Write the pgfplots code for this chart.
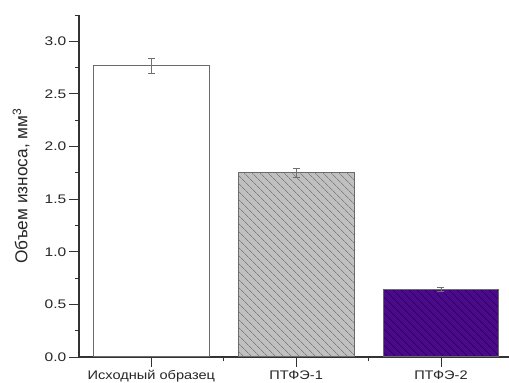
\documentclass[border=0pt]{standalone}
\usepackage{fontspec}
\setmainfont{Liberation Sans}
\usepackage{pgfplots}
\pgfplotsset{compat=1.18}
\usetikzlibrary{patterns.meta}
\definecolor{edgegray}{HTML}{6A6A6A}
\definecolor{barsilver}{HTML}{C0C0C0}
\definecolor{hatchgray}{HTML}{808080}
\definecolor{indigo}{HTML}{4B0A8C}
\definecolor{hatchindigo}{HTML}{2A0055}
\definecolor{errgray}{HTML}{707070}
\begin{document}
\begin{tikzpicture}
\begin{axis}[
  scale only axis,
  width=430bp, height=342bp,
  xmin=-0.5, xmax=2.47,
  ymin=0, ymax=3.25,
  axis x line=bottom, axis y line=left,
  axis line style={-, line width=1.1bp, draw=black!80},
  xtick={0,1,2},
  xticklabels={Исходный образец, ПТФЭ-1, ПТФЭ-2},
  minor xtick={0.5,1.5},
  ytick={0,0.5,1,1.5,2,2.5,3},
  minor ytick={0.25,0.75,1.25,1.75,2.25,2.75,3.25},
  tick align=outside,
  major tick length=10bp, minor tick length=4bp,
  tick style={line width=0.9bp, draw=black!80},
  /pgf/number format/assume math mode=true,
  yticklabel style={/pgf/number format/fixed, /pgf/number format/precision=1, /pgf/number format/fixed zerofill, font=\fontsize{12.5}{14}\selectfont, text=black!85, xscale=1.25, inner sep=2bp},
  xticklabel style={font=\fontsize{12.5}{14}\selectfont, text=black!85, xscale=1.17},
  ylabel={Объем износа, мм$^{\mathrm{3}}$},
  ylabel style={font=\fontsize{17.3}{19}\selectfont, text=black!85},
  ylabel shift=9bp,
  clip=false,
]
\addplot[ybar, bar width=0.8, bar shift=0pt, draw=edgegray, line width=1bp, fill=white,
  error bars/.cd, y dir=both, y explicit,
  error bar style={errgray, line width=0.7bp},
  error mark options={rotate=90, mark size=3.5bp, errgray, line width=0.7bp}]
  coordinates {(0,2.77) +- (0,0.07)};
\addplot[ybar, bar width=0.8, bar shift=0pt, draw=edgegray, line width=1bp, fill=barsilver,
  postaction={pattern={Lines[angle=-45, distance=6bp, line width=0.7bp]}, pattern color=hatchgray},
  error bars/.cd, y dir=both, y explicit,
  error bar style={errgray, line width=0.7bp},
  error mark options={rotate=90, mark size=3.5bp, errgray, line width=0.7bp}]
  coordinates {(1,1.75) +- (0,0.045)};
\addplot[ybar, bar width=0.8, bar shift=0pt, draw=edgegray, line width=1bp, fill=indigo,
  postaction={pattern={Lines[angle=-45, distance=6bp, line width=0.7bp]}, pattern color=hatchindigo},
  error bars/.cd, y dir=both, y explicit,
  error bar style={errgray, line width=0.7bp},
  error mark options={rotate=90, mark size=3.5bp, errgray, line width=0.7bp}]
  coordinates {(2,0.645) +- (0,0.018)};
\end{axis}
\pgfresetboundingbox
\path[use as bounding box] (current axis.south west) ++(-79bp,-26bp) rectangle ++(509bp,383bp);
\end{tikzpicture}
\end{document}
